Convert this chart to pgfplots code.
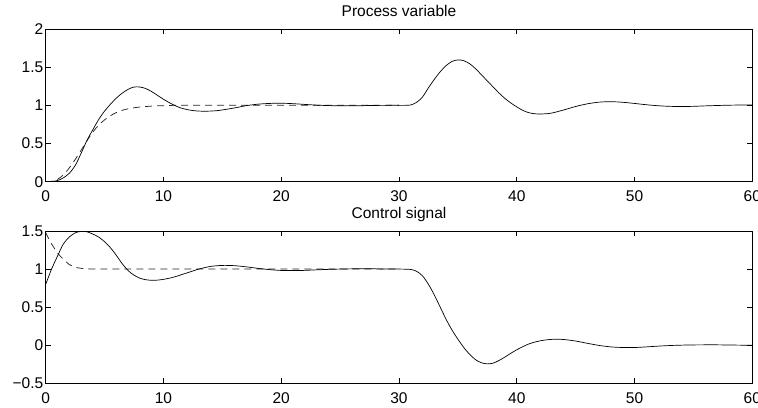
\documentclass[border=0pt]{standalone}
\usepackage{pgfplots}
\pgfplotsset{compat=1.18}
\usepackage{fontspec}
\setmainfont{Liberation Sans}
\pgfplotstableread{
x y
0 0
0.5 0.003
1 0.015
1.5 0.05
2 0.11
2.5 0.21
3 0.37
3.5 0.54
4 0.68
4.5 0.815
5 0.925
5.5 1.015
6 1.095
6.5 1.16
7 1.21
7.5 1.24
8 1.24
8.5 1.22
9 1.18
9.5 1.13
10 1.08
10.5 1.035
11 0.995
11.5 0.965
12 0.945
12.5 0.932
13 0.925
13.5 0.923
14 0.925
14.5 0.93
15 0.94
16 0.965
17 0.995
18 1.015
19 1.025
20 1.028
21 1.022
22 1.012
23 1.003
24 0.997
25 0.994
26 0.994
27 0.996
28 0.999
29 1.0
30 1.0
30.5 1.0
31 1.005
31.5 1.04
32 1.11
32.5 1.23
33 1.34
33.5 1.44
34 1.52
34.5 1.575
35 1.595
35.5 1.585
36 1.545
36.5 1.48
37 1.40
37.5 1.32
38 1.24
38.5 1.16
39 1.09
39.5 1.03
40 0.98
40.5 0.935
41 0.905
41.5 0.89
42 0.887
42.5 0.89
43 0.90
44 0.94
45 0.985
46 1.02
47 1.042
48 1.048
49 1.04
50 1.025
51 1.008
52 0.995
53 0.987
54 0.985
55 0.987
56 0.993
57 0.998
58 1.002
59 1.004
60 1.004
}\pvsolid
\pgfplotstableread{
x y
0 0
0.5 0.005
1 0.03
1.5 0.09
2 0.18
2.5 0.29
3 0.41
3.5 0.535
4 0.65
4.5 0.74
5 0.81
5.5 0.865
6 0.905
6.5 0.935
7 0.955
7.5 0.968
8 0.978
9 0.99
10 0.996
11 1.0
15 1.0
20 1.0
25 1.0
30 1.0
}\pvdashed
\pgfplotstableread{
x y
0 0.80
0.5 1.0
1 1.17
1.5 1.33
2 1.42
2.5 1.475
3 1.495
3.5 1.49
4 1.46
4.5 1.42
5 1.36
5.5 1.28
6 1.18
6.5 1.07
7 0.98
7.5 0.92
8 0.88
8.5 0.86
9 0.853
9.5 0.855
10 0.865
10.5 0.88
11 0.90
12 0.95
13 1.00
14 1.035
15 1.048
16 1.045
17 1.03
18 1.01
19 0.993
20 0.982
21 0.98
22 0.983
23 0.99
24 0.996
25 1.0
26 1.003
27 1.004
28 1.003
29 1.001
30 1.0
31 0.995
31.5 0.97
32 0.91
32.5 0.80
33 0.66
33.5 0.50
34 0.34
34.5 0.20
35 0.08
35.5 -0.03
36 -0.12
36.5 -0.19
37 -0.23
37.5 -0.245
38 -0.235
38.5 -0.20
39 -0.155
39.5 -0.105
40 -0.06
40.5 -0.02
41 0.015
41.5 0.04
42 0.058
42.5 0.07
43 0.077
43.5 0.078
44 0.075
45 0.055
46 0.025
47 -0.003
48 -0.022
49 -0.03
50 -0.03
51 -0.022
52 -0.012
53 -0.004
54 0.001
55 0.004
56 0.005
57 0.005
58 0.003
59 0.001
60 0.0
}\usolid
\pgfplotstableread{
x y
0 1.48
0.25 1.40
0.5 1.33
0.75 1.27
1 1.21
1.5 1.13
2 1.06
2.5 1.025
3 1.01
3.5 1.004
4 1.001
5 1.0
10 1.0
15 1.0
20 1.0
25 1.0
30 1.0
}\udashed
\begin{document}
\begin{tikzpicture}
\useasboundingbox (0,0) rectangle (758bp,408bp);
\pgfplotsset{
  every axis/.append style={
    scale only axis,
    width=706.6bp,
    xmin=0, xmax=60,
    xtick={0,10,20,30,40,50,60},
    tick align=inside,
    xtick pos=both, ytick pos=both,
    major tick length=5bp,
    axis line style={line width=0.9bp},
    every tick/.style={black, line width=0.7bp},
    tick label style={font=\fontsize{15.5bp}{18bp}\selectfont},
    /pgf/number format/assume math mode=true,
    xticklabel style={yshift=-5.5bp},
    yticklabel style={xshift=1bp},
    every axis title shift=0pt,
    title style={at={(0.5,1)}, anchor=base, yshift=12.3bp, font=\fontsize{15.5bp}{18bp}\selectfont},
  },
  solidc/.style={black, line width=0.7bp, smooth, no marks},
  dashc/.style={black!85, line width=0.75bp, smooth, no marks, dash pattern=on 7bp off 5bp},
}
\begin{axis}[
  at={(45.7bp,226.3bp)}, anchor=south west,
  height=152.7bp,
  ymin=0, ymax=2,
  ytick={0,0.5,1,1.5,2},
  yticklabels={0,0.5,1,1.5,2},
  title={Process variable},
]
\addplot[dashc] table[x=x,y=y] {\pvdashed};
\addplot[solidc] table[x=x,y=y] {\pvsolid};
\end{axis}
\begin{axis}[
  at={(45.7bp,24.7bp)}, anchor=south west,
  height=152.3bp,
  ymin=-0.5, ymax=1.5,
  ytick={-0.5,0,0.5,1,1.5},
  yticklabels={−0.5,0,0.5,1,1.5},
  title={Control signal},
]
\addplot[dashc] table[x=x,y=y] {\udashed};
\addplot[solidc] table[x=x,y=y] {\usolid};
\end{axis}
\end{tikzpicture}
\end{document}
